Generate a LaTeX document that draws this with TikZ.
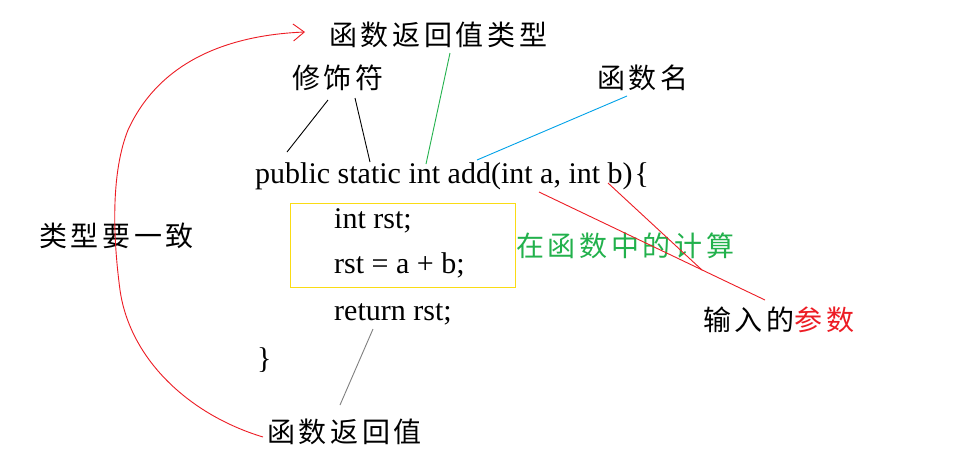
\documentclass[tikz,border=0pt]{standalone}
\usepackage{fontspec}
\setmainfont{Liberation Serif}
\newfontfamily\cjk[LetterSpace=13]{Noto Sans CJK SC}
\usetikzlibrary{arrows.meta}
\definecolor{pred}{RGB}{237,28,36}
\definecolor{pgreen}{RGB}{34,177,76}
\definecolor{pblue}{RGB}{0,162,232}
\definecolor{pyellow}{RGB}{250,220,20}
\tikzset{
  lbl/.style={anchor=west, inner sep=0pt, font=\cjk\fontsize{28}{30}\selectfont},
  code/.style={anchor=base west, inner sep=0pt, font=\fontsize{30}{34}\selectfont},
  thin line/.style={line width=0.9pt},
}
\begin{document}
\begin{tikzpicture}[x=1pt,y=-1pt]
\useasboundingbox (0,0) rectangle (963,467);
\fill[white] (0,0) rectangle (963,467);

% labels
\node[lbl] (rettype) at (329,35) {函数返回值类型};
\node[lbl] (mod) at (292,78) {修饰符};
\node[lbl] (fname) at (597,78) {函数名};
\node[lbl, text=pgreen] (calc) at (516,246) {在函数中的计算};
\node[lbl] (param) at (703,320) {输入的\textcolor{pred}{参数}};
\node[lbl] (same) at (39,236) {类型要一致};
\node[lbl] (retval) at (267,432) {函数返回值};

% code
\node[code] (sig) at (255,183) {public static int add(int a, int b)\kern2pt\{};
\node[code] (l1) at (334,228) {int rst;};
\node[code] (l2) at (334,273) {rst = a + b;};
\node[code] (l3) at (334,320) {return rst;};
\node[code] (close) at (257,368) {\}};

% box
\draw[pyellow, line width=0.9pt] (290,203) rectangle (515,287);

% connector end points
\coordinate (m1a) at (328,100); \coordinate (m1b) at (287,152);
\coordinate (m2a) at (355,98);  \coordinate (m2b) at (370,162);
\coordinate (ta) at (450,53);   \coordinate (tb) at (426,164);
\coordinate (na) at (627,96);   \coordinate (nb) at (477,160);
\coordinate (pa1) at (539,192); \coordinate (pb1) at (765,300);
\coordinate (pa2) at (608,183); \coordinate (pb2) at (702,270);
\coordinate (ra) at (373,329);  \coordinate (rb) at (340,405);
\coordinate (cs) at (263,437);  \coordinate (ce) at (305,32);

\draw[thin line] (m1a) -- (m1b);
\draw[thin line] (m2a) -- (m2b);
\draw[thin line, pgreen] (ta) -- (tb);
\draw[thin line, pblue] (na) -- (nb);
\draw[thin line, pred] (pa1) -- (pb1);
\draw[thin line, pred] (pa2) -- (pb2);
\draw[thin line, gray] (ra) -- (rb);

% red curve
\draw[thin line, pred, -{Straight Barb[length=11pt,width=17pt]}]
  (cs) .. controls (190,415) and (130,360) .. (120,290)
  .. controls (112,230) and (112,170) .. (128,130)
  .. controls (160,60) and (230,35) .. (ce);
\end{tikzpicture}
\end{document}
